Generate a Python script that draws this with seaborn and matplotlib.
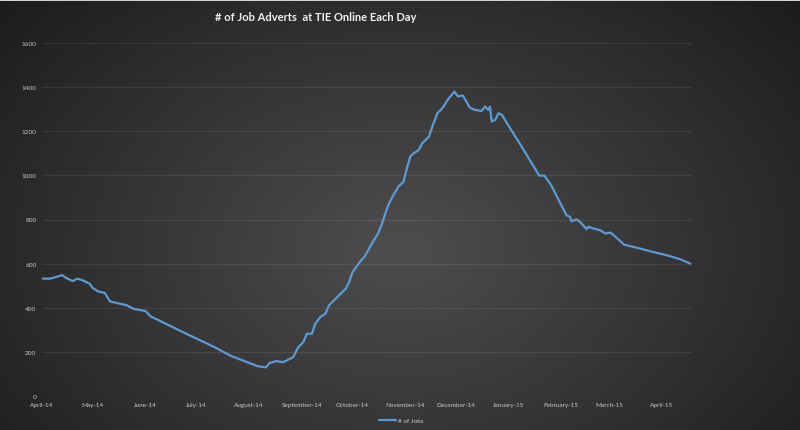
import numpy as np
import pandas as pd
import matplotlib
matplotlib.use("Agg")
import matplotlib.pyplot as plt
import matplotlib.dates as mdates
import seaborn as sns

dates = [
    "2014-04-01", "2014-04-06", "2014-04-13", "2014-04-15", "2014-04-19", "2014-04-22",
    "2014-04-25", "2014-04-29", "2014-05-01", "2014-05-04", "2014-05-08", "2014-05-11",
    "2014-05-17", "2014-05-21", "2014-05-25", "2014-06-01", "2014-06-04", "2014-06-21",
    "2014-07-11", "2014-07-21", "2014-07-31", "2014-08-06", "2014-08-11", "2014-08-13",
    "2014-08-17", "2014-08-21", "2014-08-27", "2014-08-30", "2014-09-02", "2014-09-04",
    "2014-09-07", "2014-09-09", "2014-09-12", "2014-09-15", "2014-09-17", "2014-09-21",
    "2014-09-24", "2014-09-27", "2014-09-29", "2014-10-01", "2014-10-06", "2014-10-08",
    "2014-10-13", "2014-10-16", "2014-10-18", "2014-10-20", "2014-10-22", "2014-10-25",
    "2014-10-28", "2014-10-31", "2014-11-02", "2014-11-04", "2014-11-06", "2014-11-09",
    "2014-11-11", "2014-11-15", "2014-11-17", "2014-11-20", "2014-11-23", "2014-11-26",
    "2014-11-30", "2014-12-02", "2014-12-05", "2014-12-09", "2014-12-12", "2014-12-16",
    "2014-12-18", "2014-12-20", "2014-12-21", "2014-12-22", "2014-12-24", "2014-12-26",
    "2014-12-28", "2014-12-31", "2015-01-08", "2015-01-14", "2015-01-19", "2015-01-22",
    "2015-01-26", "2015-01-29", "2015-02-01", "2015-02-04", "2015-02-06", "2015-02-07",
    "2015-02-10", "2015-02-12", "2015-02-16", "2015-02-17", "2015-02-20", "2015-02-24",
    "2015-02-27", "2015-03-02", "2015-03-06", "2015-03-10", "2015-03-18", "2015-03-27",
    "2015-04-04", "2015-04-12", "2015-04-18",
]
jobs = [
    532, 532, 548, 536, 521, 532,
    524, 509, 489, 474, 467, 429,
    418, 411, 395, 385, 361, 297,
    224, 183, 153, 135, 130, 149,
    158, 153, 176, 221, 244, 282,
    282, 327, 358, 373, 410, 441,
    464, 486, 517, 562, 615, 630,
    699, 736, 774, 820, 865, 910,
    949, 971, 1032, 1085, 1100, 1115,
    1145, 1176, 1221, 1282, 1305, 1342,
    1380, 1358, 1362, 1308, 1297, 1292,
    1312, 1297, 1312, 1244, 1251, 1282,
    1274, 1236, 1138, 1062, 999, 999,
    956, 910, 865, 820, 812, 792,
    801, 789, 756, 767, 759, 751,
    736, 741, 714, 686, 671, 653,
    638, 620, 600,
]
series_name = "# of Jobs"
title = "# of Job Adverts  at TIE Online Each Day"
y_ticks = [0, 200, 400, 600, 800, 1000, 1200, 1400, 1600]

df = pd.DataFrame({"date": pd.to_datetime(dates), series_name: jobs})

sns.set_theme(style="dark")
plt.rcParams["font.family"] = ["Lato", "DejaVu Sans"]

W, H = 800, 431
fig = plt.figure(figsize=(W / 100, H / 100), dpi=100)

# radial gradient background
bg = fig.add_axes([0, 0, 1, 1])
yy, xx = np.mgrid[0:H, 0:W]
r = np.sqrt(((xx - 400) / 470.0) ** 2 + ((yy - 250) / 330.0) ** 2)
g = np.clip(78 - 44 * r, 28, 90) / 255.0
img = np.dstack([g, g, g])
img[0:2, :, :] = 0.82
bg.imshow(img, aspect="auto", extent=[0, 1, 0, 1], origin="upper")
bg.axis("off")

ax = fig.add_axes([42 / W, 1 - 397 / H, (692 - 42) / W, (397 - 44) / H])
ax.set_facecolor((0, 0, 0, 0))
sns.lineplot(data=df, x="date", y=series_name, ax=ax, color="#5B9BD5",
             linewidth=1.6, label=series_name, legend=False)

ax.set_xlim(pd.Timestamp("2014-04-01"), pd.Timestamp("2015-04-19"))
ax.set_ylim(0, 1600)
ax.set_yticks(y_ticks)
ax.xaxis.set_major_locator(mdates.MonthLocator())
ax.xaxis.set_major_formatter(mdates.DateFormatter("%B-%y"))
ax.grid(axis="y", color="white", alpha=0.08, linewidth=0.9)
ax.grid(axis="x", visible=False)
ax.tick_params(axis="both", length=0, labelsize=4.6, labelcolor="#c8c8c8")
ax.tick_params(axis="x", pad=4)
ax.tick_params(axis="y", pad=4)
ax.set_xlabel("")
ax.set_ylabel("")
for s in ax.spines.values():
    s.set_visible(False)

fig.text(316 / W, 1 - 17.5 / H, title, ha="center", va="center",
         fontsize=8, fontweight="bold", color="#f0f0f0")

handles, labels = ax.get_legend_handles_labels()
fig.legend(handles, labels, loc="center", bbox_to_anchor=(401 / W, 1 - 421.5 / H),
           frameon=False, fontsize=4.6, labelcolor="#c8c8c8", handlelength=2.6,
           handletextpad=0.3)

fig.savefig("out.png", dpi=100)
